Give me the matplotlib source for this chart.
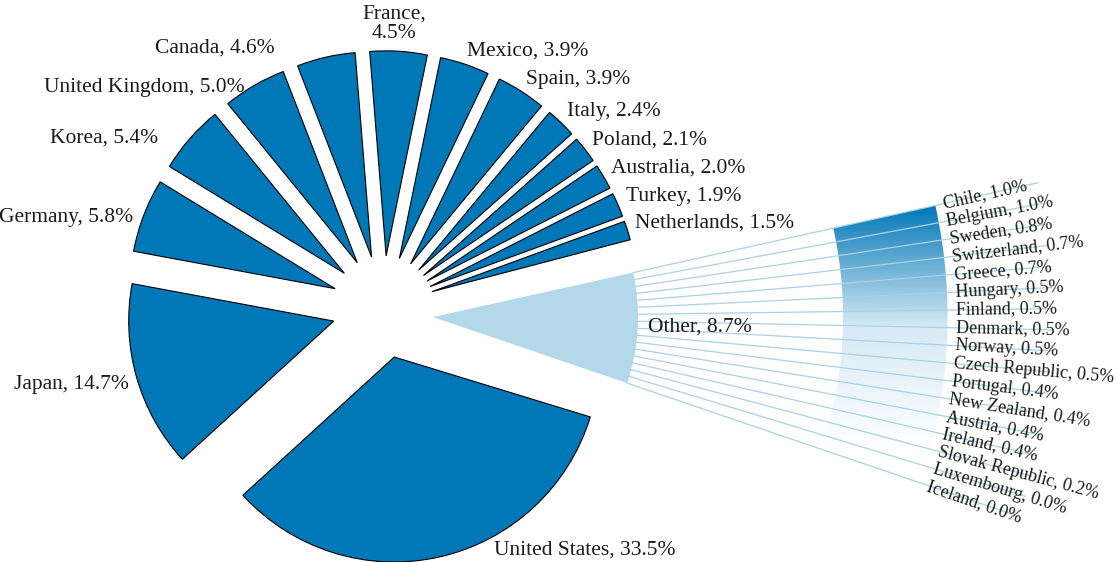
import matplotlib.pyplot as plt
import matplotlib.patches as mpatches
from matplotlib.colors import LinearSegmentedColormap
import numpy as np

# main pie: share of total, %
countries = ["United States", "Japan", "Germany", "Korea", "United Kingdom", "Canada",
             "France", "Mexico", "Spain", "Italy", "Poland", "Australia", "Turkey",
             "Netherlands"]
shares = [33.5, 14.7, 5.8, 5.4, 5.0, 4.6, 4.5, 3.9, 3.9, 2.4, 2.1, 2.0, 1.9, 1.5]
other_name = "Other"
other_share = 8.7

# breakdown of "Other"
other_countries = ["Chile", "Belgium", "Sweden", "Switzerland", "Greece", "Hungary",
                   "Finland", "Denmark", "Norway", "Czech Republic", "Portugal",
                   "New Zealand", "Austria", "Ireland", "Slovak Republic",
                   "Luxembourg", "Iceland"]
other_shares = [1.0, 1.0, 0.8, 0.7, 0.7, 0.5, 0.5, 0.5, 0.5, 0.5, 0.4, 0.4, 0.4, 0.4,
                0.2, 0.0, 0.0]

# colours
blue = "#0077b6"
light_blue = "#b3d8ea"
line_color = "#a9d1e7"
text_color = "#1a1a1a"

plt.rcParams["font.family"] = ["Liberation Serif", "DejaVu Serif"]

W, H = 1117, 562
R = 205.0            # pie radius in pixels -> 1 data unit
cx, cy = 383, 307    # pie centre, pixels from top-left

fig = plt.figure(figsize=(W / 100, H / 100), dpi=100)
ax = fig.add_axes([0, 0, 1, 1])

# main countries, as fractions of the whole (leaves the gap for "Other")
wedges, _ = ax.pie(np.array(shares) / 100, normalize=False,
                   explode=[0.25] * len(shares), startangle=-17,
                   counterclock=False, colors=[blue] * len(shares), frame=True,
                   wedgeprops=dict(edgecolor="black", linewidth=0.8))

# "Other" slice, pulled out towards the breakdown
ow = ax.pie([other_share / 100], normalize=False, startangle=-18.8,
            center=(0.244, -0.049), colors=[light_blue], frame=True,
            wedgeprops=dict(edgecolor="none"))[0][0]

# labels of the main slices (nudges in pixels, y up)
nudges = {"Canada": (-49, 6), "Korea": (-26, 0), "United States": (53, 10),
          "United Kingdom": (-6, -4), "France": (-5, -5), "Germany": (-3, 0)}
fs = 15.5
for w, name, val in zip(wedges, countries, shares):
    mid = np.radians((w.theta1 + w.theta2) / 2)
    x0, y0 = w.center
    right = np.cos(mid) > 0
    x = x0 + 1.04 * np.cos(mid)
    y = y0 + 1.04 * np.sin(mid) + (5 if right else -5) / R
    dx, dy = nudges.get(name, (0, 0))
    x += dx / R
    y += dy / R
    if name == "France":
        ax.text(x, y, f"{name},\n{val:.1f}%", ha="center", va="bottom",
                multialignment="center", fontsize=fs, color=text_color,
                linespacing=1.05)
        continue
    ax.text(x, y, f"{name}, {val:.1f}%", ha="left" if right else "right",
            va="center", fontsize=fs, color=text_color)

ox, oy = ow.center
t_lo, t_hi = ow.theta1, ow.theta2
omid = np.radians((t_lo + t_hi) / 2)
ax.text(ox + 1.05 * np.cos(omid), oy + 1.05 * np.sin(omid) + 2 / R,
        f"{other_name}, {other_share:.1f}%", ha="left", va="center",
        fontsize=fs, color=text_color, zorder=4)

# gradient band of the breakdown
r_in, r_out = 2.0, 2.51
band = mpatches.Wedge((ox, oy), r_out, t_lo, t_hi, width=r_out - r_in,
                      facecolor="none", edgecolor="none")
ax.add_patch(band)
cmap = LinearSegmentedColormap.from_list("fade", ["white", "#d6eaf5", blue])
grad = np.linspace(0, 1, 256).reshape(-1, 1)
y_bot = oy + r_in * np.sin(np.radians(t_lo))
y_top = oy + r_out * np.sin(np.radians(t_hi))
img = ax.imshow(grad, cmap=cmap, origin="lower", aspect="auto",
                extent=[ox + r_in * 0.9, ox + r_out, y_bot, y_top], zorder=1)
img.set_clip_path(band)

angles = np.linspace(t_hi, t_lo, len(other_countries))
for a, name, val in zip(angles, other_countries, other_shares):
    ar = np.radians(a)
    ax.plot([ox + np.cos(ar), ox + 3.02 * np.cos(ar)],
            [oy + np.sin(ar), oy + 3.02 * np.sin(ar)],
            color=line_color, linewidth=0.9, zorder=2)
    ax.text(ox + 2.55 * np.cos(ar), oy + 2.55 * np.sin(ar), f"{name}, {val:.1f}%",
            rotation=a, rotation_mode="anchor", ha="left", va="center",
            fontsize=13, color=text_color, zorder=3)

ax.set_xlim(-cx / R, (W - cx) / R)
ax.set_ylim(-(H - cy) / R, cy / R)
ax.set_aspect("auto")
ax.axis("off")

fig.savefig("out.png", dpi=100)
